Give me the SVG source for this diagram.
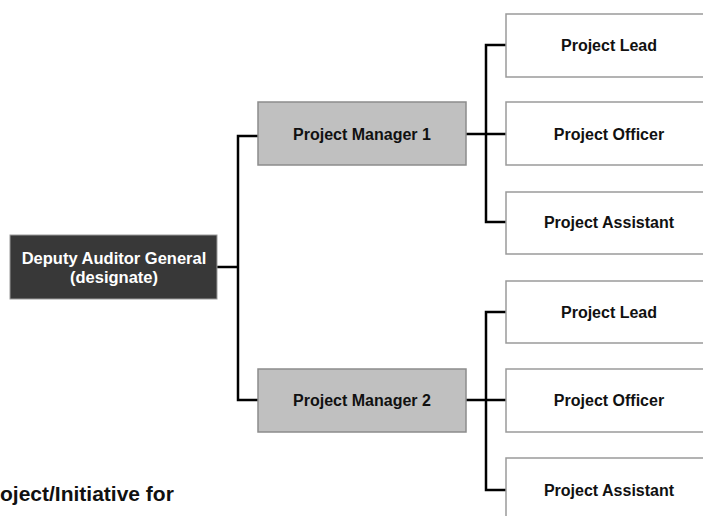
<svg xmlns="http://www.w3.org/2000/svg" width="703" height="516" viewBox="0 0 703 516">
  <style>
    text { font-family: "Liberation Sans", Arial, sans-serif; font-weight: bold; }
    .lbl { font-size: 16px; text-anchor: middle; fill: #111; }
    .mgr rect { fill: #c0c0c0; stroke: #8c8c8c; stroke-width: 1.5; }
    .role rect { fill: #ffffff; stroke: #9a9a9a; stroke-width: 1.5; }
    .link { fill: none; stroke: #000; stroke-width: 2.5; }
  </style>
  <rect width="703" height="516" fill="#ffffff"/>

  <!-- connectors -->
  <g id="connectors" class="link">
    <path d="M217 267 H238"/>
    <path d="M258 136 H238 V400 H258"/>
    <path d="M466 134 H506"/>
    <path d="M506 45 H486 V222 H506"/>
    <path d="M466 400 H506"/>
    <path d="M506 312 H486 V490 H506"/>
  </g>

  <!-- head -->
  <g id="deputy">
    <rect x="10" y="235" width="207" height="64" fill="#383838" stroke="#9a9a9a" stroke-width="1"/>
    <text x="114" y="264" font-size="16.5" fill="#ffffff" text-anchor="middle">Deputy Auditor General</text>
    <text x="114" y="283" font-size="16.5" fill="#ffffff" text-anchor="middle">(designate)</text>
  </g>

  <!-- managers -->
  <g id="pm1" class="mgr">
    <rect x="258" y="102" width="208" height="63"/>
    <text class="lbl" x="362" y="140">Project Manager 1</text>
  </g>
  <g id="pm2" class="mgr">
    <rect x="258" y="369" width="208" height="63"/>
    <text class="lbl" x="362" y="406">Project Manager 2</text>
  </g>

  <!-- roles under manager 1 -->
  <g id="lead1" class="role">
    <rect x="506" y="14" width="208" height="63"/>
    <text class="lbl" x="609" y="51">Project Lead</text>
  </g>
  <g id="officer1" class="role">
    <rect x="506" y="102" width="208" height="63"/>
    <text class="lbl" x="609" y="140">Project Officer</text>
  </g>
  <g id="assistant1" class="role">
    <rect x="506" y="192" width="208" height="62"/>
    <text class="lbl" x="609" y="228">Project Assistant</text>
  </g>

  <!-- roles under manager 2 -->
  <g id="lead2" class="role">
    <rect x="506" y="281" width="208" height="62"/>
    <text class="lbl" x="609" y="318">Project Lead</text>
  </g>
  <g id="officer2" class="role">
    <rect x="506" y="369" width="208" height="63"/>
    <text class="lbl" x="609" y="406">Project Officer</text>
  </g>
  <g id="assistant2" class="role">
    <rect x="506" y="458" width="208" height="70"/>
    <text class="lbl" x="609" y="496">Project Assistant</text>
  </g>

  <!-- caption -->
  <text x="0" y="501" font-size="21" fill="#111">oject/Initiative for</text>
</svg>
